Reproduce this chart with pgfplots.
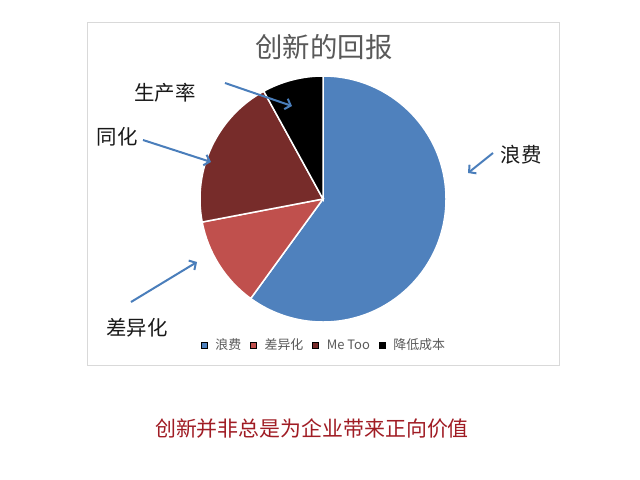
\documentclass[border=0pt]{standalone}
\usepackage{fontspec}
\setmainfont{Noto Sans CJK SC}
\usepackage{pgfplots}
\usepackage{pgfplotstable}
\pgfplotsset{compat=1.18}
\usetikzlibrary{arrows.meta}

\definecolor{pblue}{HTML}{4F81BD}
\definecolor{pred}{HTML}{C0504D}
\definecolor{pdark}{HTML}{772C2A}
\definecolor{pblack}{HTML}{000000}
\definecolor{arrowblue}{HTML}{4A7EBB}
\definecolor{noteRed}{HTML}{A01C24}
\definecolor{titlegray}{HTML}{595959}

% shares of the pie, in per cent, clockwise from 12 o'clock
\pgfplotstableread{
share
60
12
20
8
}\piedata

\newcommand\slice[2]{%
  \fill[#2,draw=white,line width=1.5bp] (axis cs:323,199)
    -- ++(\csname startang#1\endcsname:123bp)
    arc[start angle=\csname startang#1\endcsname,
        end angle=\csname endang#1\endcsname, radius=123bp] -- cycle;}

\begin{document}%
% cumulative angles of the slices
\def\curang{90}%
\pgfplotsforeachungrouped \i in {0,1,2,3}{%
  \pgfplotstablegetelem{\i}{share}\of\piedata%
  \pgfmathsetmacro\nextang{\curang-3.6*\pgfplotsretval}%
  \expandafter\xdef\csname startang\i\endcsname{\curang}%
  \expandafter\xdef\csname endang\i\endcsname{\nextang}%
  \xdef\curang{\nextang}%
}%
\begin{tikzpicture}
\begin{axis}[
  width=640bp, height=479bp, scale only axis,
  xmin=0, xmax=640, ymin=0, ymax=479, y dir=reverse,
  hide axis, clip=false,
  legend image code/.code={\fill[#1] (0bp,-3bp) rectangle (6bp,3bp);},
  legend style={at={(axis cs:324,345)}, anchor=center, draw=none, fill=none,
    legend columns=-1, inner sep=0pt,
    font=\fontsize{13}{15}\selectfont, text=titlegray,
    /tikz/every odd column/.append style={column sep=6bp},
    /tikz/every even column/.append style={column sep=7bp}},
]
\fill[white] (axis cs:0,0) rectangle (axis cs:640,479);
\draw[black!15, line width=1bp] (axis cs:87,23) rectangle (axis cs:559,365);

\slice{0}{pblue}
\slice{1}{pred}
\slice{2}{pdark}
\slice{3}{pblack}

\addlegendimage{fill=pblue}\addlegendentry{浪费}
\addlegendimage{fill=pred}\addlegendentry{差异化}
\addlegendimage{fill=pdark}\addlegendentry{Me Too}
\addlegendimage{fill=pblack}\addlegendentry{降低成本}

\node[text=titlegray, font=\fontsize{27.5}{30}\selectfont] at (axis cs:324,47) {创新的回报};

\begin{scope}[font=\fontsize{20.5}{22}\selectfont, text=black!90]
\node at (axis cs:165,93) {生产率};
\node at (axis cs:117,137) {同化};
\node at (axis cs:521,155) {浪费};
\node at (axis cs:137,328) {差异化};
\end{scope}

\begin{scope}[arrowblue, line width=2bp, -{Straight Barb[length=5bp,width=11bp]}]
\draw (axis cs:225,83) -- (axis cs:292,106);
\draw (axis cs:143,140) -- (axis cs:211,162);
\draw (axis cs:493,153) -- (axis cs:468,173);
\draw (axis cs:131,302) -- (axis cs:197,262);
\end{scope}

\node[text=noteRed, font=\fontsize{21}{24}\selectfont] at (axis cs:312,429) {创新并非总是为企业带来正向价值};
\end{axis}
\end{tikzpicture}%
\end{document}
